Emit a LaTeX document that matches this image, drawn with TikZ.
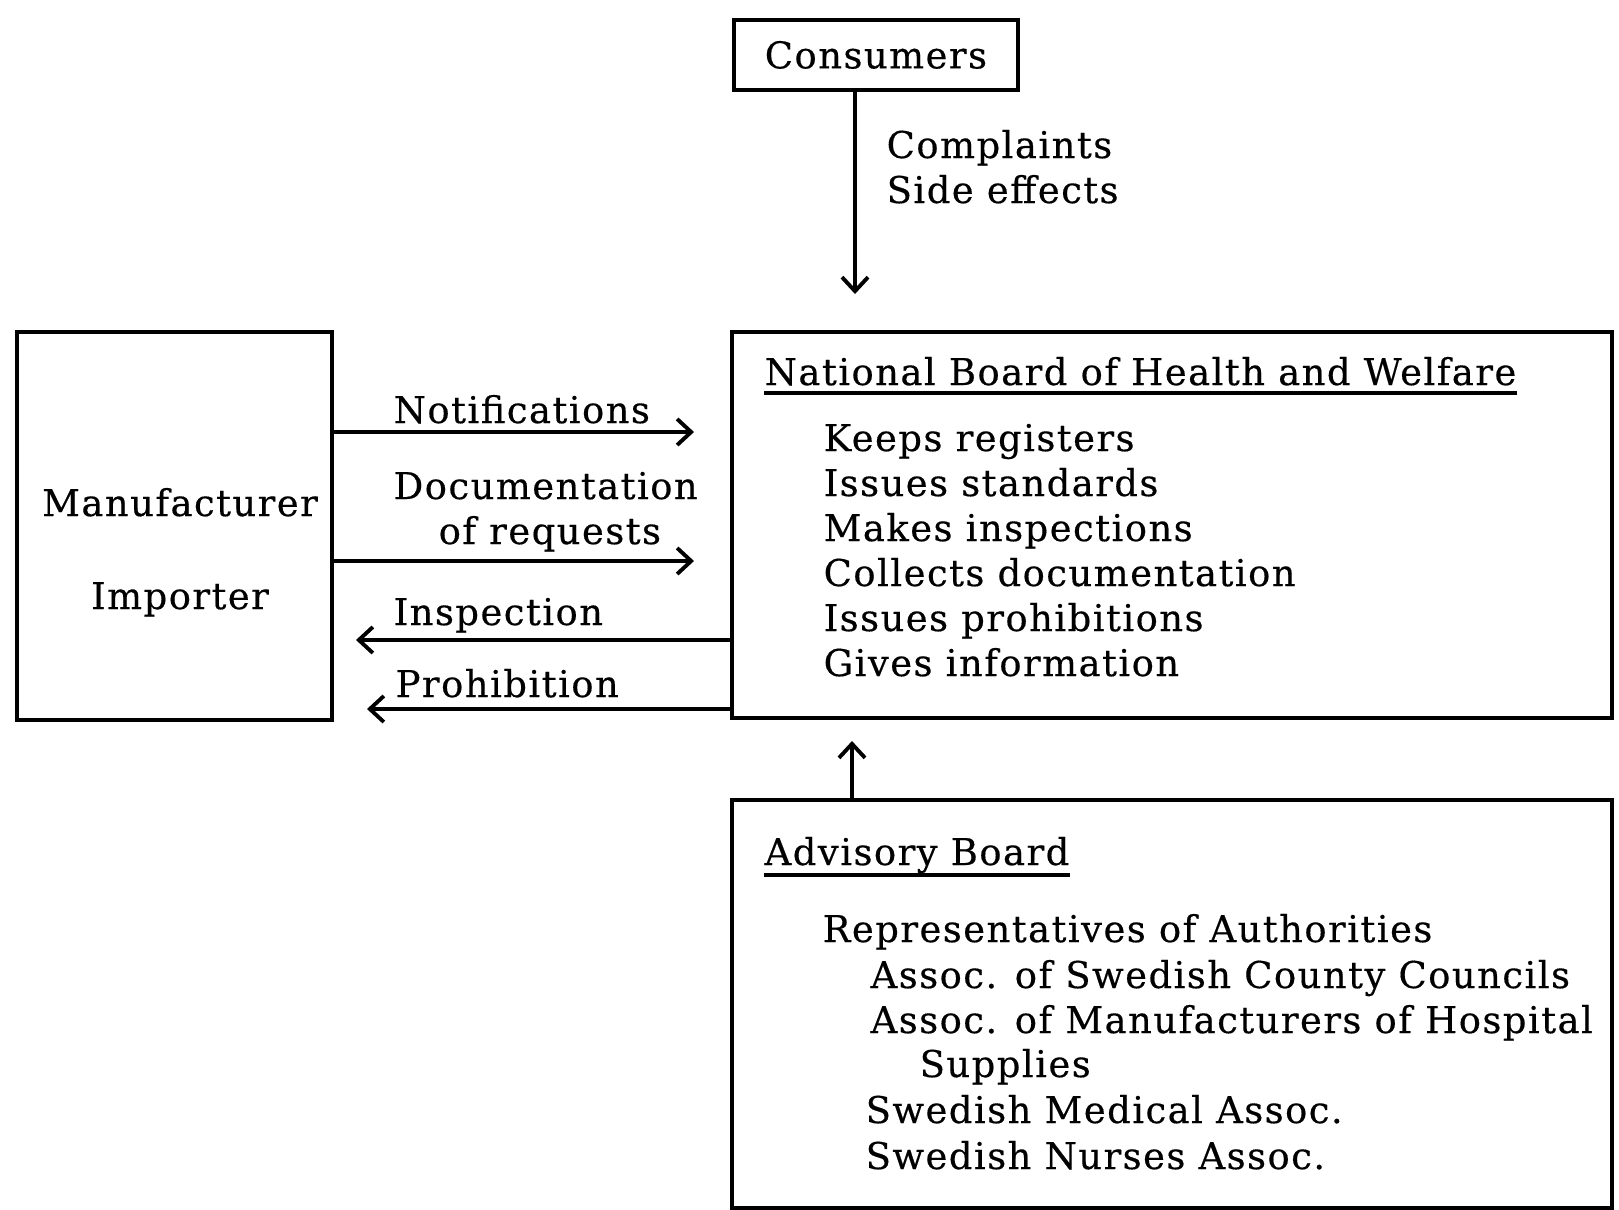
\documentclass[tikz,border=0pt]{standalone}
\usepackage{fontspec}
\setmainfont{DejaVu Serif}[LetterSpace=4, FakeBold=0.4]
\usetikzlibrary{arrows.meta,positioning,calc}
\tikzset{
  box/.style={draw, line width=1.1pt, inner sep=0pt},
  txt/.style={anchor=base west, inner sep=0pt, font=\fontsize{10.5}{12}\selectfont},
  ctxt/.style={txt, anchor=base},
  flow/.style={-{Straight Barb[length=1.4mm,width=2.6mm]}, line width=1.1pt},
  uline/.style={line width=1.1pt},
}
\begin{document}
\begin{tikzpicture}[x=1cm,y=1cm]
  \useasboundingbox (0,0) rectangle (16.19,-12.09);
  % boxes
  \node[box, anchor=north west, minimum width=2.84cm, minimum height=0.70cm,
    font=\fontsize{10.5}{12}\selectfont] (consumers) at (7.32,-0.18) {Consumers};
  \node[box, anchor=north west, minimum width=3.15cm, minimum height=3.88cm] (maker) at (0.15,-3.30) {};
  \node[box, anchor=north west, minimum width=8.80cm, minimum height=3.86cm] (nbhw) at (7.30,-3.30) {};
  \node[box, anchor=north west, minimum width=8.80cm, minimum height=4.08cm] (advisory) at (7.30,-7.98) {};

  % consumers -> board
  \coordinate (cin) at (8.55,-2.94);
  \draw[flow] (consumers.south -| cin) -- (cin);
  \node[txt] (complaints) at (8.86,-1.58) {Complaints};
  \node[txt] (sideeff) at (8.86,-2.03) {Side effects};

  % manufacturer <-> board
  \node[ctxt] (manu) at (1.80,-5.16) {Manufacturer};
  \node[ctxt] (impo) at (1.80,-6.09) {Importer};
  \coordinate (notin) at (6.94,-4.32);
  \coordinate (docin) at (6.94,-5.61);
  \coordinate (inspout) at (3.56,-6.40);
  \coordinate (prohout) at (3.67,-7.09);
  \draw[flow] (maker.east |- notin) -- (notin);
  \draw[flow] (maker.east |- docin) -- (docin);
  \draw[flow] (nbhw.west |- inspout) -- (inspout);
  \draw[flow] (nbhw.west |- prohout) -- (prohout);
  \node[txt] (notif) at (3.93,-4.23) {Notifications};
  \node[txt] (docu) at (3.93,-4.99) {Documentation};
  \node[txt] (requ) at (4.38,-5.44) {of requests};
  \node[txt] (insp) at (3.93,-6.25) {Inspection};
  \node[txt] (proh) at (3.95,-6.97) {Prohibition};

  % national board
  \node[txt] (nbtitle) at (7.64,-3.85) {National Board of Health and Welfare};
  \draw[uline] ($(nbtitle.base west)+(0,-0.08)$) -- ($(nbtitle.base east)+(0,-0.08)$);
  \foreach \job [count=\i] in {Keeps registers, Issues standards, Makes inspections,
      Collects documentation, Issues prohibitions, Gives information}
    \node[txt] (task\i) at (8.23,{-4.51-0.45*(\i-1)}) {\job};

  % advisory board
  \coordinate (advout) at (8.52,-7.41);
  \draw[flow] (advisory.north -| advout) -- (advout);
  \node[txt] (advtitle) at (7.64,-8.65) {Advisory Board};
  \draw[uline] ($(advtitle.base west)+(0,-0.10)$) -- ($(advtitle.base east)+(0,-0.10)$);
  \node[txt] (reps) at (8.22,-9.42) {Representatives of Authorities};
  \node[txt] (county) at (8.70,-9.88) {Assoc. of Swedish County Councils};
  \node[txt] (hosp) at (8.70,-10.33) {Assoc. of Manufacturers of Hospital};
  \node[txt] (suppl) at (9.19,-10.77) {Supplies};
  \node[txt] (medic) at (8.65,-11.23) {Swedish Medical Assoc.};
  \node[txt] (nurse) at (8.65,-11.69) {Swedish Nurses Assoc.};
\end{tikzpicture}
\end{document}
